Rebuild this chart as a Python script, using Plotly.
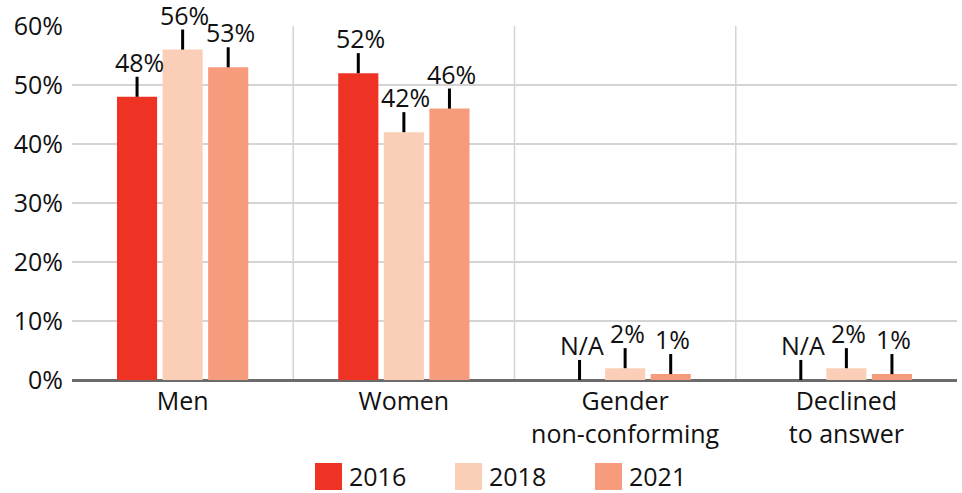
import plotly.graph_objects as go

categories = ["Men", "Women", "Gender<br>non-conforming", "Declined<br>to answer"]
years = ["2016", "2018", "2021"]
values_2016 = [48, 52, None, None]
values_2018 = [56, 42, 2, 2]
values_2021 = [53, 46, 1, 1]
colors = ["#EE3224", "#FBCFB7", "#F79B7D"]
y_ticks = [0, 10, 20, 30, 40, 50, 60]
y_tick_labels = ["0%", "10%", "20%", "30%", "40%", "50%", "60%"]

series = [values_2016, values_2018, values_2021]
FONT = "Open Sans"
FS = 25
LEADER = 3.4  # leader line length in % units

fig = go.Figure()
for name, vals, col in zip(years, series, colors):
    yplot = [v if v is not None else 0 for v in vals]
    fig.add_trace(go.Bar(
        x=categories, y=yplot, name=name, marker_color=col,
        marker_line_width=0, showlegend=False,
        error_y=dict(type="data", symmetric=False,
                     array=[LEADER] * len(vals), arrayminus=[0] * len(vals),
                     color="black", thickness=3, width=0),
        hoverinfo="skip",
    ))

# value labels above leader lines
slot_px = 45.5
for i, (vals, col) in enumerate(zip(series, colors)):
    for cat, v in zip(categories, vals):
        label = f"{v}%" if v is not None else "N/A"
        base = v if v is not None else 0
        fig.add_annotation(x=cat, y=base + LEADER, xref="x", yref="y",
                           text=label, showarrow=False, yanchor="bottom",
                           xshift=(i - 1) * slot_px + 2, yshift=-3,
                           borderpad=0,
                           font=dict(family=FONT, size=FS, color="#111"))

# category separators
for b in [0.5, 1.5, 2.5]:
    fig.add_shape(type="line", xref="x", yref="y", x0=b, x1=b, y0=0, y1=60,
                  line=dict(color="#D4D4D4", width=1.5), layer="below")

# manual legend
legend_x = [315, 455, 595]
W, H = 962, 493
ml, mr, mt, mb = 72, 5, 26, 113
pw, ph = W - ml - mr, H - mt - mb
def px_to_paper_x(px):
    return (px - ml) / pw
def px_to_paper_y(py):
    return (H - mb - py) / ph
for name, col, lx in zip(years, colors, legend_x):
    fig.add_shape(type="rect", xref="paper", yref="paper",
                  x0=px_to_paper_x(lx), x1=px_to_paper_x(lx + 27),
                  y0=px_to_paper_y(490), y1=px_to_paper_y(463),
                  fillcolor=col, line_width=0)
    fig.add_annotation(xref="paper", yref="paper", x=px_to_paper_x(lx + 32),
                       y=px_to_paper_y(476), text=name, showarrow=False,
                       xanchor="left", yanchor="middle",
                       font=dict(family=FONT, size=FS, color="#111"))

fig.update_layout(
    width=W, height=H,
    margin=dict(l=ml, r=mr, t=mt, b=mb, autoexpand=False),
    paper_bgcolor="white", plot_bgcolor="white",
    barmode="group", bargap=0.382, bargroupgap=0.12,
    showlegend=False,
    font=dict(family=FONT, size=FS, color="#111"),
    xaxis=dict(showgrid=False, showline=False, ticks="", tickfont=dict(size=FS),
               ticklabelstandoff=4, automargin=False),
    yaxis=dict(range=[0, 60], tickvals=y_ticks, ticktext=y_tick_labels,
               showgrid=True, gridcolor="#D4D4D4", gridwidth=1.5,
               zeroline=True, zerolinecolor="#6B6B6B", zerolinewidth=3,
               showline=False, ticks="", ticklabelstandoff=8,
               tickfont=dict(size=FS), automargin=False),
)

fig.write_html("out.html", config={"displayModeBar": False},
               post_script="document.body.style.margin='0';document.body.style.overflow='hidden';")
